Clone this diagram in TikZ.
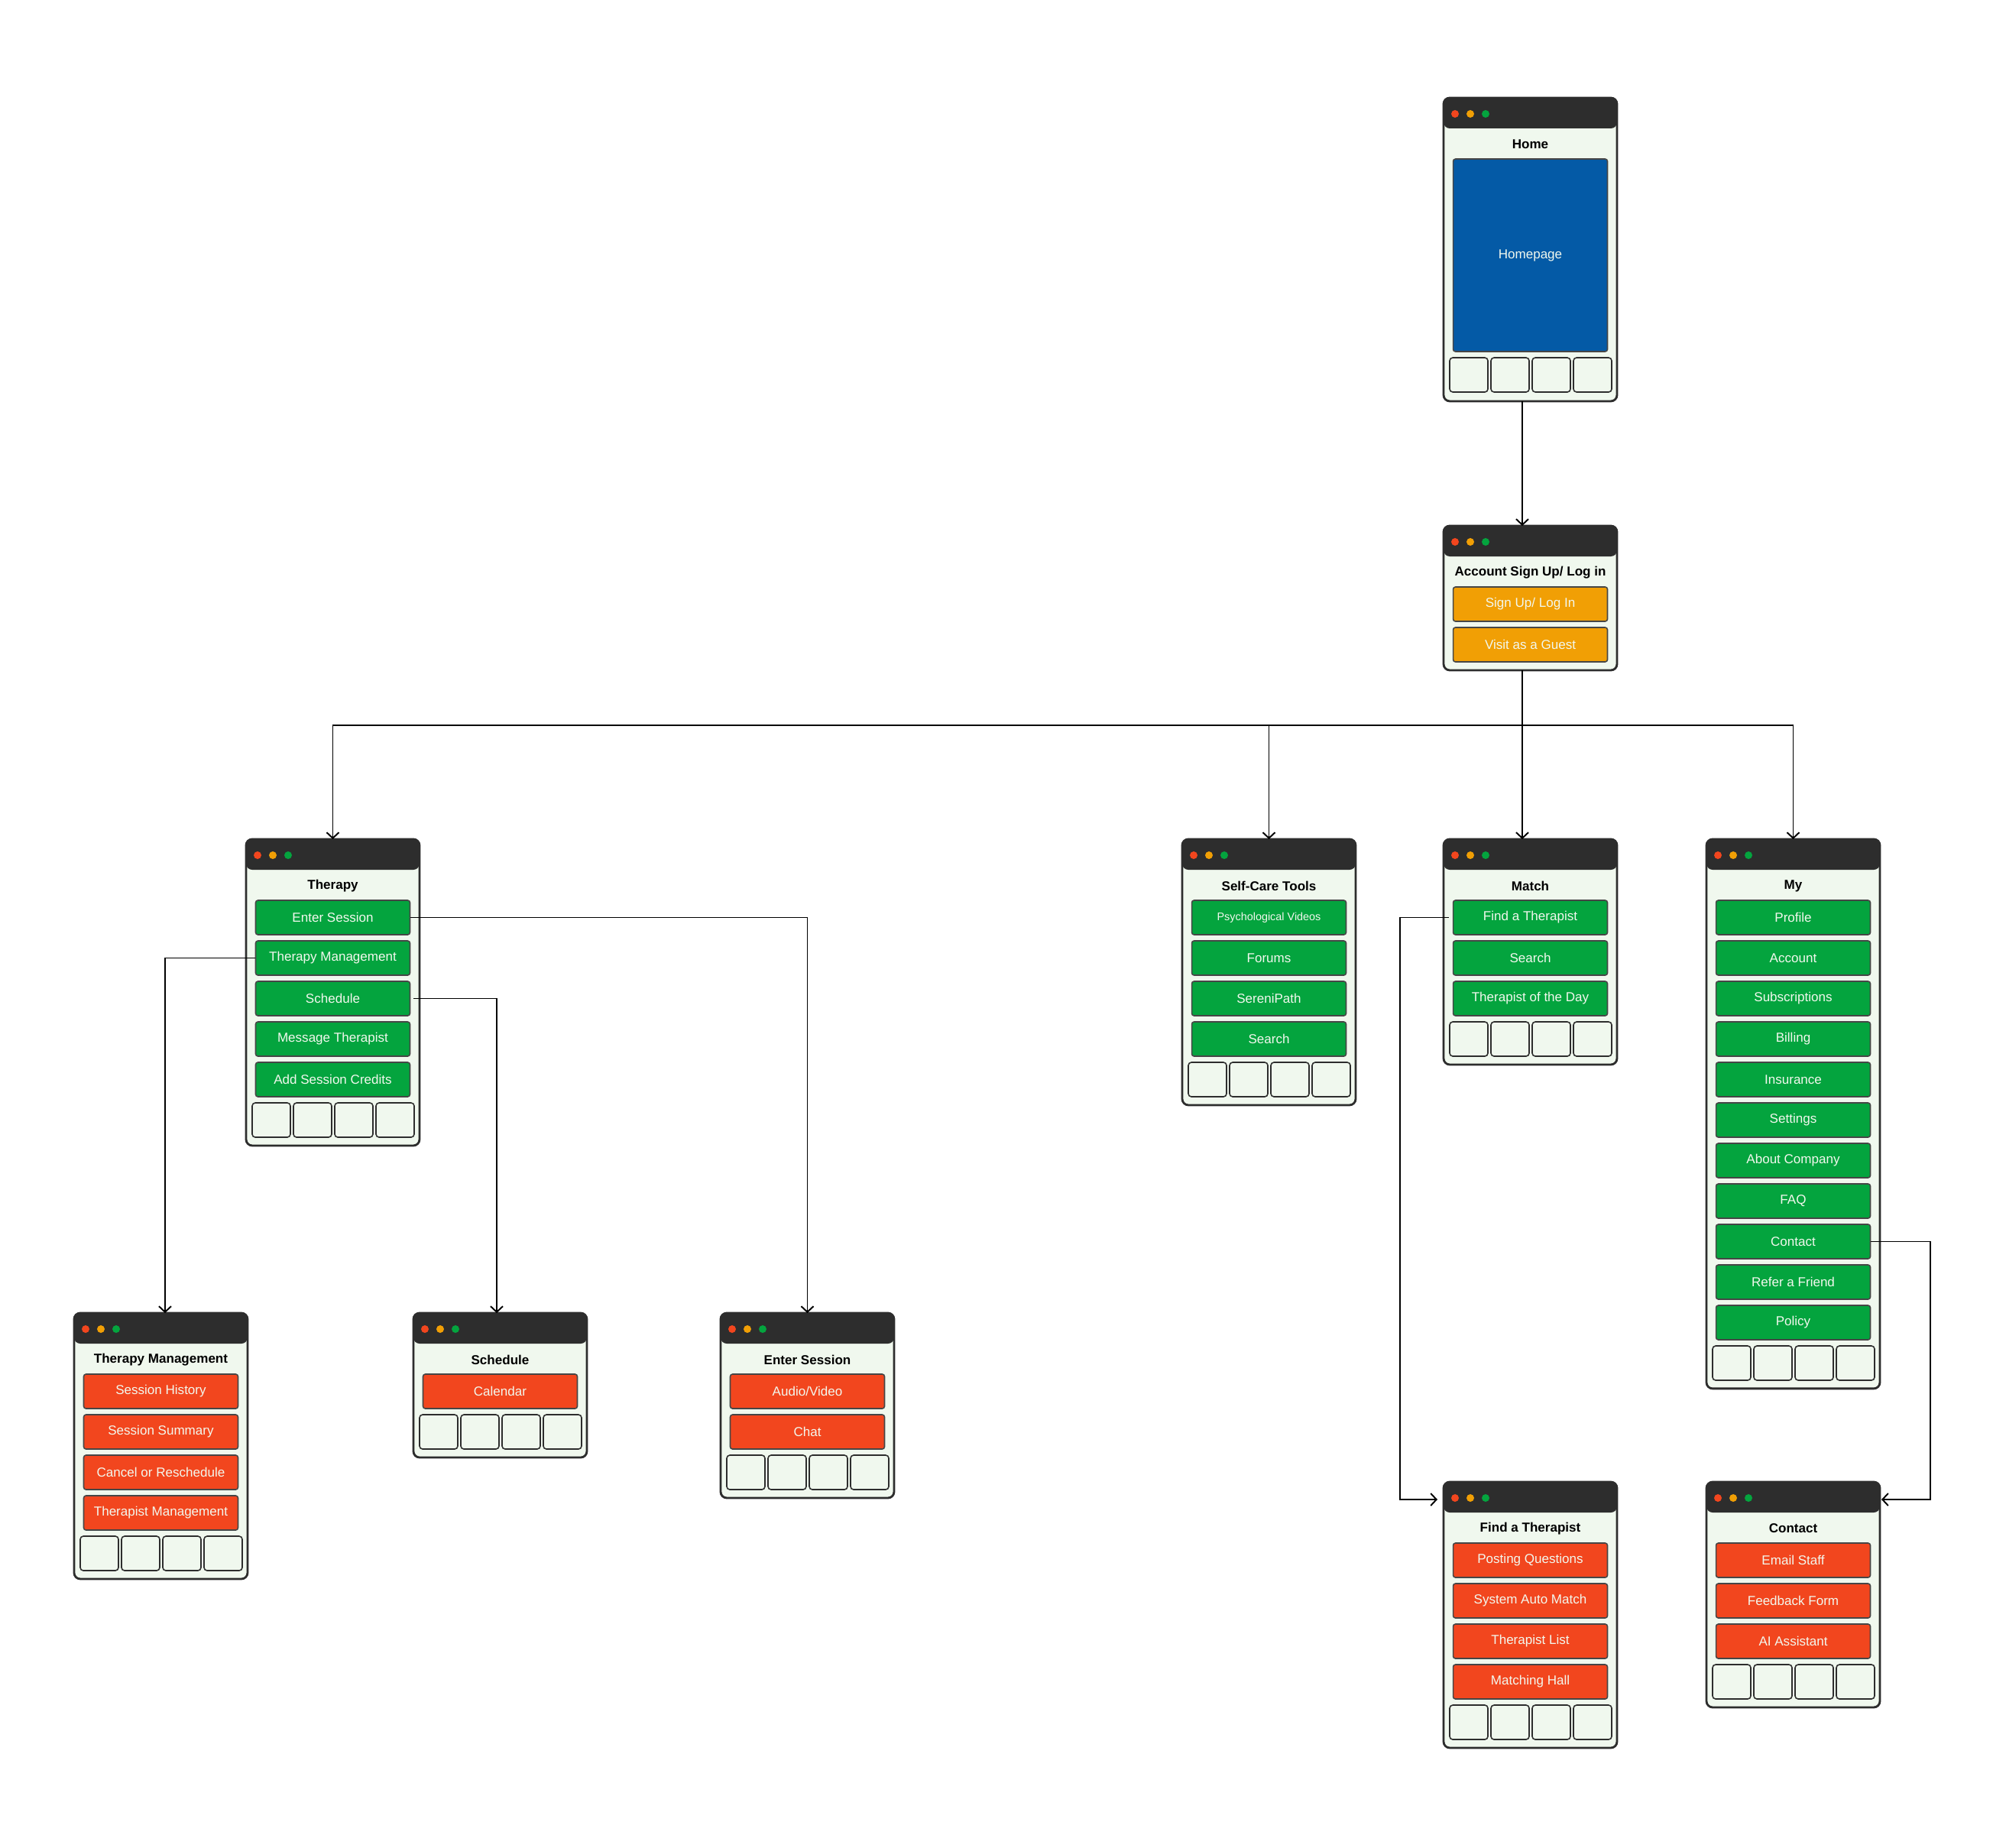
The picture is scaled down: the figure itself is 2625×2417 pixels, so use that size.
\documentclass[tikz,border=0pt]{standalone}
\usepackage{fontspec}
\setmainfont{Liberation Sans}
\usetikzlibrary{arrows.meta}
\definecolor{framecol}{RGB}{45,45,45}
\definecolor{winbg}{RGB}{240,248,238}
\definecolor{btnline}{RGB}{70,70,70}
\definecolor{btntext}{RGB}{242,248,238}
\definecolor{grn}{RGB}{4,164,62}
\definecolor{org}{RGB}{241,159,5}
\definecolor{rd}{RGB}{242,70,30}
\definecolor{blu}{RGB}{4,90,166}

\begin{document}
\begin{tikzpicture}[x=0.02cm, y=-0.02cm,
    >={Straight Barb[length=0.15cm,width=0.32cm]},
    link/.style={->, line width=1.1pt},
    win/.style={draw=framecol, line width=1.6pt, fill=winbg, rounded corners=0.16cm,
      minimum width=4.54cm, inner sep=0pt, outer sep=0pt, anchor=north west,
      path picture={\fill[framecol] (path picture bounding box.north west)
        rectangle ([yshift=-0.8cm]path picture bounding box.north east);}},
    wintitle/.style={font=\bfseries\fontsize{9.7}{11}\selectfont, inner sep=0pt},
    btn/.style={draw=btnline, line width=0.9pt, rounded corners=0.06cm,
      minimum width=4.04cm, minimum height=0.9cm, inner sep=0pt,
      text=btntext, font=\fontsize{9.7}{11}\selectfont},
    tab/.style={draw=framecol, line width=0.9pt, fill=winbg, rounded corners=0.08cm}
  ]
  \useasboundingbox (0,0) rectangle (2625,2417);

  % Home
  \begin{scope}[shift={(1889,128)}]
    \node[win, minimum height=7.94cm] (home) at (0,0) {};
    \foreach \c [count=\i] in {rd,org,grn} \fill[\c] ({20*\i-5},21) circle[radius=0.1cm];
    \node[wintitle] (home-t) at (113.5,61) {Home};
    \node[btn, fill=blu, minimum height=5.04cm] (homepage) at (113.5,206) {Homepage};
    \foreach \x in {8,62,116,170} \draw[tab] (\x,340) rectangle ++(50,45);
  \end{scope}

  % Account Sign Up/ Log in
  \begin{scope}[shift={(1889,688)}]
    \node[win, minimum height=3.78cm] (account) at (0,0) {};
    \foreach \c [count=\i] in {rd,org,grn} \fill[\c] ({20*\i-5},21) circle[radius=0.1cm];
    \node[wintitle] (account-t) at (113.5,61) {Account Sign Up/ Log in};
    \foreach \t [count=\i] in {Sign Up/ Log In, Visit as a Guest}
      \node[btn, fill=org] (account-\i) at (113.5,{49.5+53*\i}) {\t};
  \end{scope}

  % Therapy
  \begin{scope}[shift={(322,1098)}]
    \node[win, minimum height=8.02cm] (therapy) at (0,0) {};
    \foreach \c [count=\i] in {rd,org,grn} \fill[\c] ({20*\i-5},21) circle[radius=0.1cm];
    \node[wintitle] (therapy-t) at (113.5,61) {Therapy};
    \foreach \t [count=\i] in {Enter Session, Therapy Management, Schedule,
        Message Therapist, Add Session Credits}
      \node[btn, fill=grn] (therapy-\i) at (113.5,{49.5+53*\i}) {\t};
    \foreach \x in {8,62,116,170} \draw[tab] (\x,345) rectangle ++(50,45);
  \end{scope}

  % Self-Care Tools
  \begin{scope}[shift={(1547,1098)}]
    \node[win, minimum height=6.96cm] (selfcare) at (0,0) {};
    \foreach \c [count=\i] in {rd,org,grn} \fill[\c] ({20*\i-5},21) circle[radius=0.1cm];
    \node[wintitle] (selfcare-t) at (113.5,61) {Self-Care Tools};
    \node[btn, fill=grn, font=\fontsize{8.2}{10}\selectfont] (selfcare-1) at (113.5,102.5) {Psychological Videos};
    \foreach \t [count=\i from 2] in {Forums, SereniPath, Search}
      \node[btn, fill=grn] (selfcare-\i) at (113.5,{49.5+53*\i}) {\t};
    \foreach \x in {8,62,116,170} \draw[tab] (\x,292) rectangle ++(50,45);
  \end{scope}

  % Match
  \begin{scope}[shift={(1889,1098)}]
    \node[win, minimum height=5.9cm] (match) at (0,0) {};
    \foreach \c [count=\i] in {rd,org,grn} \fill[\c] ({20*\i-5},21) circle[radius=0.1cm];
    \node[wintitle] (match-t) at (113.5,61) {Match};
    \foreach \t [count=\i] in {Find a Therapist, Search, Therapist of the Day}
      \node[btn, fill=grn] (match-\i) at (113.5,{49.5+53*\i}) {\t};
    \foreach \x in {8,62,116,170} \draw[tab] (\x,239) rectangle ++(50,45);
  \end{scope}

  % My
  \begin{scope}[shift={(2233,1098)}]
    \node[win, minimum height=14.38cm] (my) at (0,0) {};
    \foreach \c [count=\i] in {rd,org,grn} \fill[\c] ({20*\i-5},21) circle[radius=0.1cm];
    \node[wintitle] (my-t) at (113.5,61) {My};
    \foreach \t [count=\i] in {Profile, Account, Subscriptions, Billing, Insurance,
        Settings, About Company, FAQ, Contact, Refer a Friend, Policy}
      \node[btn, fill=grn] (my-\i) at (113.5,{49.5+53*\i}) {\t};
    \foreach \x in {8,62,116,170} \draw[tab] (\x,663) rectangle ++(50,45);
  \end{scope}

  % Therapy Management
  \begin{scope}[shift={(97,1718)}]
    \node[win, minimum height=6.96cm] (tmgmt) at (0,0) {};
    \foreach \c [count=\i] in {rd,org,grn} \fill[\c] ({20*\i-5},21) circle[radius=0.1cm];
    \node[wintitle] (tmgmt-t) at (113.5,61) {Therapy Management};
    \foreach \t [count=\i] in {Session History, Session Summary, Cancel or Reschedule,
        Therapist Management}
      \node[btn, fill=rd] (tmgmt-\i) at (113.5,{49.5+53*\i}) {\t};
    \foreach \x in {8,62,116,170} \draw[tab] (\x,292) rectangle ++(50,45);
  \end{scope}

  % Schedule
  \begin{scope}[shift={(541,1718)}]
    \node[win, minimum height=3.78cm] (sched) at (0,0) {};
    \foreach \c [count=\i] in {rd,org,grn} \fill[\c] ({20*\i-5},21) circle[radius=0.1cm];
    \node[wintitle] (sched-t) at (113.5,61) {Schedule};
    \node[btn, fill=rd] (sched-1) at (113.5,102.5) {Calendar};
    \foreach \x in {8,62,116,170} \draw[tab] (\x,133) rectangle ++(50,45);
  \end{scope}

  % Enter Session
  \begin{scope}[shift={(943,1718)}]
    \node[win, minimum height=4.84cm] (enter) at (0,0) {};
    \foreach \c [count=\i] in {rd,org,grn} \fill[\c] ({20*\i-5},21) circle[radius=0.1cm];
    \node[wintitle] (enter-t) at (113.5,61) {Enter Session};
    \foreach \t [count=\i] in {Audio/Video, Chat}
      \node[btn, fill=rd] (enter-\i) at (113.5,{49.5+53*\i}) {\t};
    \foreach \x in {8,62,116,170} \draw[tab] (\x,186) rectangle ++(50,45);
  \end{scope}

  % Find a Therapist
  \begin{scope}[shift={(1889,1939)}]
    \node[win, minimum height=6.96cm] (find) at (0,0) {};
    \foreach \c [count=\i] in {rd,org,grn} \fill[\c] ({20*\i-5},21) circle[radius=0.1cm];
    \node[wintitle] (find-t) at (113.5,61) {Find a Therapist};
    \foreach \t [count=\i] in {Posting Questions, System Auto Match, Therapist List,
        Matching Hall}
      \node[btn, fill=rd] (find-\i) at (113.5,{49.5+53*\i}) {\t};
    \foreach \x in {8,62,116,170} \draw[tab] (\x,292) rectangle ++(50,45);
  \end{scope}

  % Contact
  \begin{scope}[shift={(2233,1939)}]
    \node[win, minimum height=5.9cm] (contact) at (0,0) {};
    \foreach \c [count=\i] in {rd,org,grn} \fill[\c] ({20*\i-5},21) circle[radius=0.1cm];
    \node[wintitle] (contact-t) at (113.5,61) {Contact};
    \foreach \t [count=\i] in {Email Staff, Feedback Form, AI Assistant}
      \node[btn, fill=rd] (contact-\i) at (113.5,{49.5+53*\i}) {\t};
    \foreach \x in {8,62,116,170} \draw[tab] (\x,239) rectangle ++(50,45);
  \end{scope}

  % connectors
  \path ([xshift=-0.21cm]account.south) ++(0,72) coordinate (hub);
  \draw[link] ([xshift=-0.21cm]home.south) -- ([xshift=-0.21cm]account.north);
  \draw[line width=1.1pt] ([xshift=-0.21cm]account.south) -- (hub);
  \draw[link] (hub) -| (therapy.north);
  \draw[link] (hub) -| (selfcare.north);
  \draw[link] (hub) -- ([xshift=-0.21cm]match.north);
  \draw[link] (hub) -| (my.north);

  \draw[link] (therapy-1.east) -| (enter.north);
  \draw[link] (therapy-2.west) -| ([xshift=0.11cm]tmgmt.north);
  \draw[link] ([xshift=0.08cm]therapy-3.east) -| ([xshift=-0.09cm]sched.north);
  \draw[link] ([xshift=-0.1cm]match-1.west) -- ++(-64,0)
    |- ([xshift=-0.16cm,yshift=-0.46cm]find.north west);
  \draw[link] (my-9.east) -- ++(78,0)
    |- ([xshift=0.04cm,yshift=-0.46cm]contact.north east);
\end{tikzpicture}
\end{document}
